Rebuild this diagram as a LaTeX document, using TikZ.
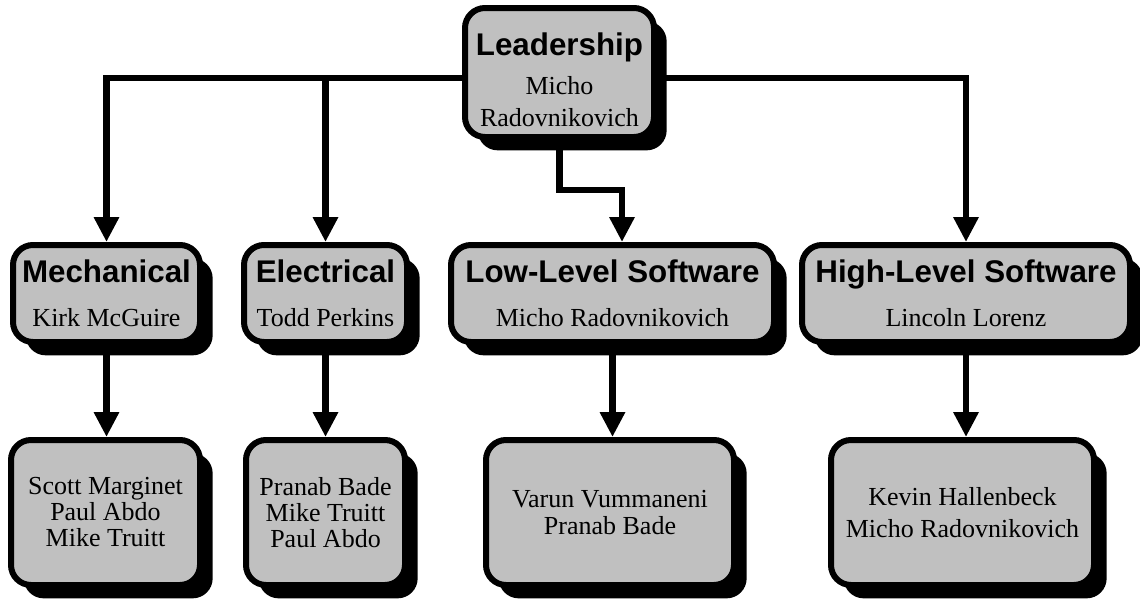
\documentclass[tikz,border=0pt]{standalone}
\usepackage{fontspec}
\setmainfont{Liberation Serif}
\setsansfont{Liberation Sans}
\usetikzlibrary{arrows.meta,shadows}

\definecolor{boxgray}{HTML}{C0C0C0}
\newcommand{\headfont}{\sffamily\bfseries\fontsize{23.5}{24}\selectfont}
\newcommand{\namefont}{\fontsize{19.5}{24}\selectfont}

\tikzset{
    orgbox/.style={draw=black, line width=4.5pt, fill=boxgray,
        rounded corners=15pt, align=center, inner sep=0pt, font=\namefont,
        drop shadow={shadow xshift=9.5pt, shadow yshift=-10pt, fill=black, opacity=1}},
    boxdim/.style 2 args={minimum width=#1*0.75pt, minimum height=#2*0.75pt},
    link/.style={line width=5pt, -{Triangle[length=18.75pt, width=18pt]}}
}

\begin{document}
\begin{tikzpicture}[x=0.75pt, y=-0.75pt]
            \useasboundingbox (0,0) rectangle (1140,601);

            % top
            \node[orgbox, boxdim={189}{129}] (lead) at (559.5,72.5)
                {\rule{0pt}{27.5pt}{\headfont Leadership}\\[5.25pt] Micho\\ Radovnikovich};

            % groups
            \node[orgbox, boxdim={187}{97}] (mech) at (106.5,293.5)
                {{\headfont Mechanical}\\[9pt] Kirk McGuire};
            \node[orgbox, boxdim={163}{97}] (elec) at (325.5,293.5)
                {{\headfont Electrical}\\[9pt] Todd Perkins};
            \node[orgbox, boxdim={323}{97}] (low) at (612.5,293.5)
                {{\headfont Low-Level Software}\\[9pt] Micho Radovnikovich};
            \node[orgbox, boxdim={328}{97}] (high) at (966,293.5)
                {{\headfont High-Level Software}\\[9pt] Lincoln Lorenz};

            % members
            \node[orgbox, boxdim={189}{145}] (mechteam) at (105.5,512.5)
                {Scott Marginet\\[-4.5pt] Paul Abdo\\[-4.5pt] Mike Truitt};
            \node[orgbox, boxdim={159}{145}] (electeam) at (325.5,512.5)
                {Pranab Bade\\[-4.5pt] Mike Truitt\\[-4.5pt] Paul Abdo};
            \node[orgbox, boxdim={248}{145}] (lowteam) at (610,512.5)
                {Varun Vummaneni\\[-3.75pt] Pranab Bade};
            \node[orgbox, boxdim={263}{145}] (highteam) at (962.5,512.5)
                {Kevin Hallenbeck\\ Micho Radovnikovich};

            \coordinate (bus) at (0,78);
            \coordinate (jog) at (622,190);

            \draw[link] (lead.west |- bus) -| (mech.north);
            \draw[link] (lead.west |- bus) -| (elec.north);
            \draw[link] (lead.east |- bus) -| (high.north);
            \draw[link] (lead.south) |- (jog) -- (jog |- low.north);

            \foreach \g in {mech,elec,low,high}{
                \draw[link] (\g.south) -- (\g.south |- \g team.north);
            }
        \end{tikzpicture}
\end{document}
